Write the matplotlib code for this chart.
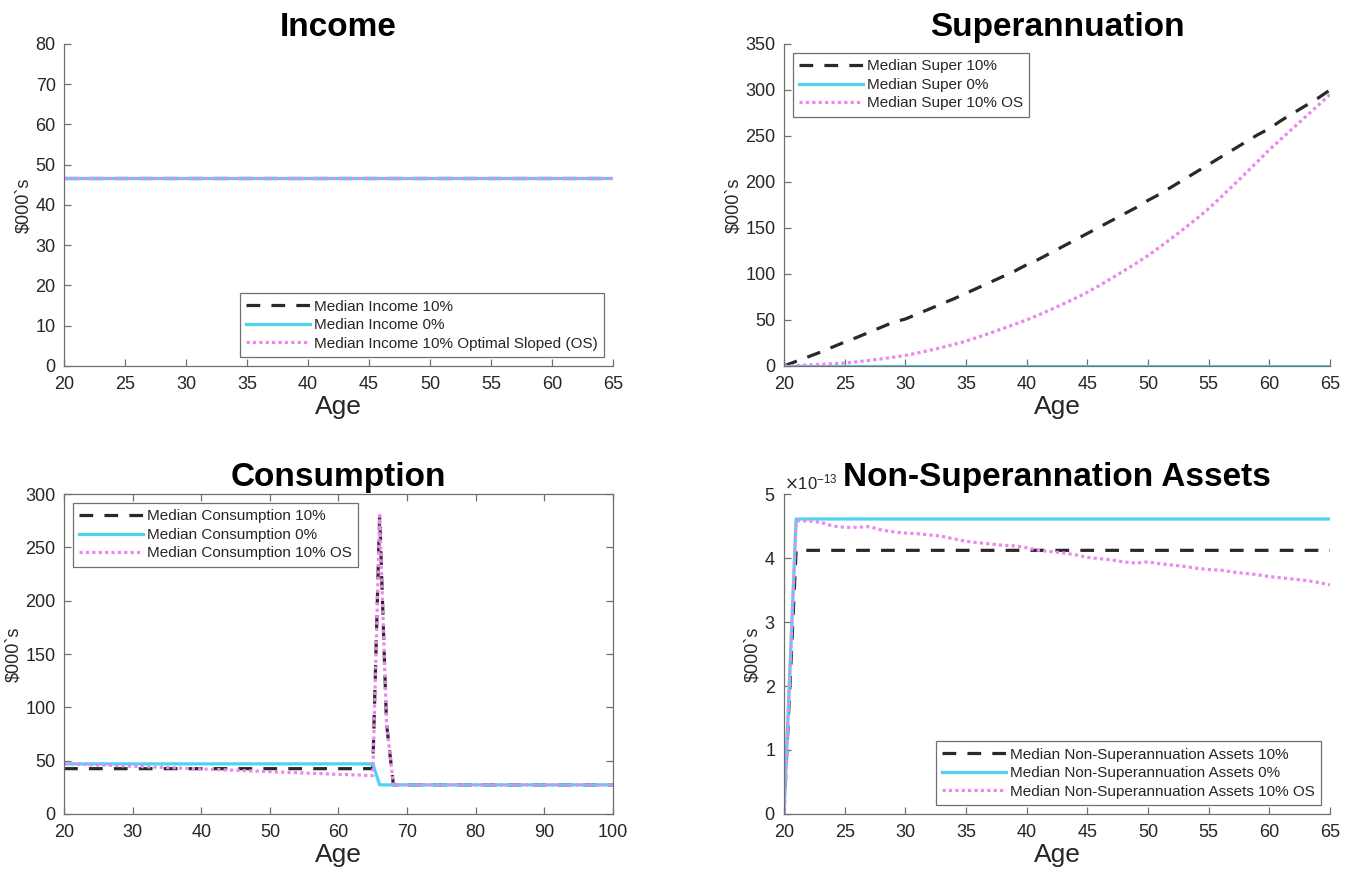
import matplotlib.pyplot as plt
import numpy as np

plt.rcParams['font.family'] = ['Liberation Sans', 'DejaVu Sans']

# ages
age_work = list(range(20, 66))
age_life = list(range(20, 101))

# income ($000s)
income_10 = [46.8] * 46
income_0 = [46.8] * 46
income_os = [46.8] * 46

# superannuation balance ($000s)
super_10 = [0, 5, 10, 15, 20.5, 26, 31, 36.5, 42, 47.5,
            51, 56.5, 62, 67.5, 73, 79, 85, 91, 97, 103,
            110, 116, 123, 130, 137, 144, 151, 158, 165, 172,
            180, 187, 195, 203, 211, 219, 227, 235, 243, 251,
            258, 267, 275, 283, 291, 300]
super_0 = [0] * 46
super_os = [0, 0.4, 1, 1.7, 2.4, 3.2, 4.5, 6, 7.7, 9.5,
            11.5, 14, 17, 20, 23.5, 27, 31.3, 35.8, 40.5, 45.2,
            50, 55.5, 61.3, 67.3, 73.5, 80, 87.5, 95.3, 103.3, 111.5,
            120, 129.5, 139.3, 149.5, 160, 171, 183.3, 196, 208.8, 221.8,
            235, 247, 259, 271, 283, 295]

# consumption ($000s), ages 20-100
cons_10 = [42.5] * 46 + [280, 85] + [27.3] * 33
cons_0 = [47] * 46 + [27.3] * 35
cons_os = [47.2, 47.0, 46.7, 46.5, 46.2, 46.0, 45.8, 45.5, 45.3, 45.0,
           44.8, 44.5, 44.3, 44.0, 43.8, 43.5, 43.3, 43.0, 42.8, 42.5,
           42.2, 42.0, 41.7, 41.5, 41.2, 41.0, 40.7, 40.4, 40.2, 39.9,
           39.7, 39.4, 39.2, 38.9, 38.7, 38.4, 38.2, 37.9, 37.7, 37.4,
           37.2, 37.0, 36.7, 36.5, 36.2, 36.0] + [280, 85] + [27.3] * 33

# non-superannuation assets (units of 1e-13)
nsa_10 = [0] + [4.12] * 45
nsa_0 = [0] + [4.61] * 45
nsa_os = [0, 4.58, 4.58, 4.56, 4.50, 4.48, 4.48, 4.49, 4.44, 4.41,
          4.39, 4.38, 4.36, 4.34, 4.30, 4.26, 4.24, 4.22, 4.20, 4.19,
          4.16, 4.12, 4.10, 4.08, 4.05, 4.01, 3.99, 3.97, 3.94, 3.92,
          3.94, 3.91, 3.89, 3.87, 3.84, 3.82, 3.81, 3.78, 3.76, 3.74,
          3.71, 3.69, 3.67, 3.65, 3.62, 3.58]

black = '#2b2829'
cyan = '#4dd4f2'
pink = '#ec88ec'
grey = '#707070'
text_c = '#262626'


def style_axes(ax, box=False):
    for s in ['top', 'right']:
        ax.spines[s].set_visible(box)
    for s in ax.spines.values():
        s.set_color(grey)
        s.set_linewidth(0.9)
    ax.tick_params(direction='in', length=5, width=0.9, color=grey,
                   labelcolor=text_c, labelsize=13, top=box, right=box)
    ax.tick_params(axis='x', pad=7)
    ax.tick_params(axis='y', pad=6)
    ax.set_xlabel('Age', fontsize=19, color=text_c, labelpad=2)
    ax.set_ylabel('\\$000`s', fontsize=13, color=text_c, labelpad=2)


def draw_lines(ax, x, a, b, c, labels):
    # plotted in this order so the dotted OS line sits on top
    ax.plot(x, a, color=black, lw=2.3, ls=(0, (4.3, 3.5)), label=labels[0])
    ax.plot(x, b, color=cyan, lw=2.3, ls='-', label=labels[1])
    ax.plot(x, c, color=pink, lw=2.3, ls=(0, (1, 1)), label=labels[2])


def add_legend(ax, loc):
    leg = ax.legend(loc=loc, fontsize=11, handlelength=4.2, handletextpad=0.25,
                    borderpad=0.4, labelspacing=0.3, fancybox=False,
                    framealpha=1, edgecolor=grey, borderaxespad=0.6)
    leg.get_frame().set_linewidth(0.9)
    for t in leg.get_texts():
        t.set_color(text_c)


fig = plt.figure(figsize=(13.51, 8.73), dpi=100)
ax1 = fig.add_axes([0.0474, 0.5808, 0.4063, 0.3688])
ax2 = fig.add_axes([0.5803, 0.5808, 0.4041, 0.3688])
ax3 = fig.add_axes([0.0474, 0.0676, 0.4063, 0.3665])
ax4 = fig.add_axes([0.5803, 0.0676, 0.4041, 0.3665])

# Income
draw_lines(ax1, age_work, income_10, income_0, income_os,
           ['Median Income 10%', 'Median Income 0%', 'Median Income 10% Optimal Sloped (OS)'])
ax1.set_xlim(20, 65)
ax1.set_ylim(0, 80)
ax1.set_xticks(range(20, 66, 5))
ax1.set_yticks(range(0, 81, 10))
style_axes(ax1)
add_legend(ax1, 'lower right')
ax1.set_title('Income', fontsize=24, fontweight='bold', pad=6)

# Superannuation
draw_lines(ax2, age_work, super_10, super_0, super_os,
           ['Median Super 10%', 'Median Super 0%', 'Median Super 10% OS'])
ax2.set_xlim(20, 65)
ax2.set_ylim(0, 350)
ax2.set_xticks(range(20, 66, 5))
ax2.set_yticks(range(0, 351, 50))
style_axes(ax2)
add_legend(ax2, 'upper left')
ax2.set_title('Superannuation', fontsize=24, fontweight='bold', pad=6)

# Consumption
draw_lines(ax3, age_life, cons_10, cons_0, cons_os,
           ['Median Consumption 10%', 'Median Consumption 0%', 'Median Consumption 10% OS'])
ax3.set_xlim(20, 100)
ax3.set_ylim(0, 300)
ax3.set_xticks(range(20, 101, 10))
ax3.set_yticks(range(0, 301, 50))
style_axes(ax3, box=True)
add_legend(ax3, 'upper left')
ax3.set_title('Consumption', fontsize=24, fontweight='bold', pad=6)

# Non-superannuation assets
scale = 1e-13
draw_lines(ax4, age_work, np.array(nsa_10) * scale, np.array(nsa_0) * scale,
           np.array(nsa_os) * scale,
           ['Median Non-Superannuation Assets 10%', 'Median Non-Superannuation Assets 0%',
            'Median Non-Superannuation Assets 10% OS'])
ax4.set_xlim(20, 65)
ax4.set_ylim(0, 5e-13)
ax4.set_xticks(range(20, 66, 5))
ax4.set_yticks(np.arange(0, 6) * scale)
fmt = plt.ScalarFormatter(useMathText=True)
ax4.yaxis.set_major_formatter(fmt)
style_axes(ax4)
ax4.yaxis.get_offset_text().set_fontsize(12)
ax4.yaxis.get_offset_text().set_color(text_c)
add_legend(ax4, 'lower right')
ax4.set_title('Non-Superannation Assets', fontsize=24, fontweight='bold', pad=6)

fig.savefig('out.png', dpi=100, facecolor='white')
